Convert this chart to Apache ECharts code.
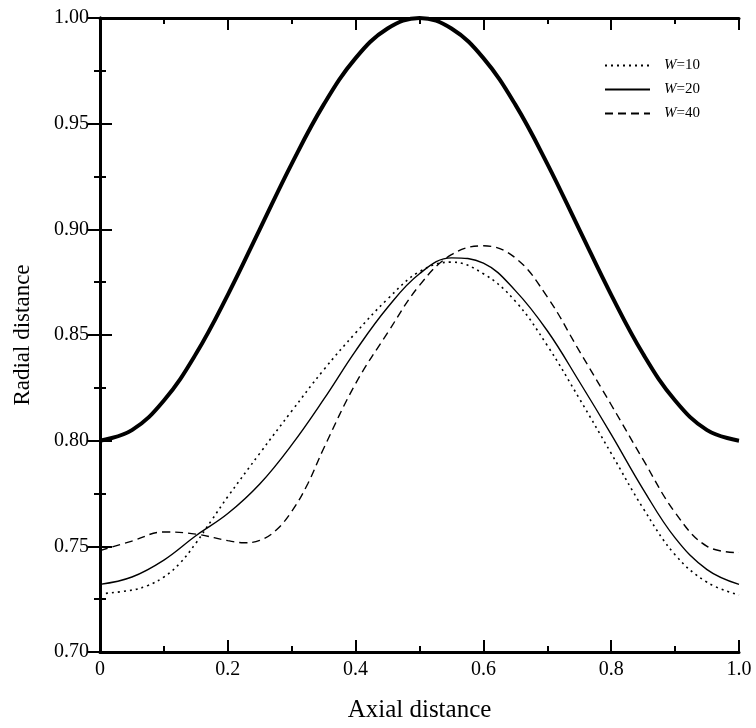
<!DOCTYPE html>
<html>
<head>
<meta charset="utf-8">
<script src="https://cdn.jsdelivr.net/npm/echarts@6/dist/echarts.min.js"></script>
<style>
html,body{margin:0;padding:0;background:#fff;}
#chart{width:756px;height:728px;}
</style>
</head>
<body>
<div id="chart"></div>
<script>
// Axial positions (common)
const xs = [0,0.05,0.10,0.15,0.20,0.25,0.30,0.35,0.40,0.45,0.50,0.55,0.60,0.65,0.70,0.75,0.80,0.85,0.90,0.95,1.00];
// Thick curve (wall profile)
const wall = [0.800,0.805,0.819,0.841,0.869,0.900,0.931,0.959,0.981,0.995,1.000,0.995,0.981,0.959,0.931,0.900,0.869,0.841,0.819,0.805,0.800];
// W=10 (dotted) – own axial positions for the bend near 0.1–0.2
const xs10 = [0,0.05,0.075,0.10,0.125,0.15,0.175,0.20,0.25,0.30,0.35,0.40,0.45,0.50,0.55,0.60,0.65,0.70,0.75,0.80,0.85,0.90,0.95,1.00];
const w10 = [0.7275,0.7293,0.7315,0.7355,0.742,0.7515,0.7625,0.7735,0.794,0.814,0.8335,0.851,0.867,0.880,0.8845,0.879,0.866,0.845,0.820,0.794,0.768,0.746,0.733,0.727];
// W=20 (solid)
const w20 = [0.732,0.7355,0.7435,0.755,0.7655,0.7795,0.798,0.8195,0.8425,0.863,0.879,0.8865,0.884,0.871,0.852,0.828,0.803,0.777,0.754,0.739,0.732];
// W=40 (dashed) – own axial positions around the local minimum
const xs40 = [0,0.05,0.10,0.15,0.20,0.225,0.25,0.275,0.30,0.325,0.35,0.40,0.45,0.50,0.55,0.60,0.65,0.70,0.75,0.80,0.85,0.90,0.95,1.00];
const w40 = [0.748,0.7525,0.7568,0.7558,0.7527,0.7517,0.7528,0.7575,0.7665,0.7795,0.7963,0.827,0.851,0.8735,0.888,0.8922,0.8865,0.868,0.8425,0.817,0.791,0.766,0.750,0.747];

const seriesNames = ['W=10','W=20','W=40'];
const xTickLabels = ['0','0.2','0.4','0.6','0.8','1.0'];
const yTickLabels = ['0.70','0.75','0.80','0.85','0.90','0.95','1.00'];

const font = 'Liberation Serif';
const pairs = (xv, ys) => xv.map((x,i)=>[x, ys[i]]);

const tick = {inside:true, length:12, lineStyle:{color:'#000', width:2}};
const minor = {show:true, splitNumber:2, length:6, lineStyle:{color:'#000', width:2}};
const axLine = {show:true, lineStyle:{color:'#000', width:3}};

const chart = echarts.init(document.getElementById('chart'), null, {renderer:'canvas'});
chart.setOption({
  animation:false,
  backgroundColor:'#fff',
  grid:{left:100, right:17, top:18, bottom:67, containLabel:false},
  xAxis:[{
    type:'value', min:0, max:1, interval:0.2, position:'bottom',
    name:'Axial distance', nameLocation:'middle', nameGap:46,
    nameTextStyle:{fontFamily:font, fontSize:25, color:'#000'},
    axisLine:axLine, axisTick:tick, minorTick:minor,
    splitLine:{show:false},
    axisLabel:{fontFamily:font, fontSize:20, color:'#000', margin:8,
      formatter:v=>xTickLabels[Math.round(v/0.2)]}
  },{
    type:'value', min:0, max:1, interval:0.2, position:'top',
    axisLine:axLine, axisTick:tick, minorTick:minor,
    splitLine:{show:false}, axisLabel:{show:false}
  }],
  yAxis:[{
    type:'value', min:0.70, max:1.00, interval:0.05, position:'left',
    name:'Radial distance', nameLocation:'middle', nameGap:66, nameRotate:90,
    nameTextStyle:{fontFamily:font, fontSize:23, color:'#000'},
    axisLine:axLine, axisTick:tick, minorTick:minor,
    splitLine:{show:false},
    axisLabel:{fontFamily:font, fontSize:20, color:'#000', margin:11,
      formatter:v=>yTickLabels[Math.round((v-0.70)/0.05)]}
  },{
    type:'value', min:0.70, max:1.00, interval:0.05, position:'right',
    axisLine:axLine, axisTick:tick, minorTick:minor,
    splitLine:{show:false}, axisLabel:{show:false}
  }],
  legend:{
    data:seriesNames, orient:'vertical', left:604, top:58, padding:0,
    itemWidth:45, itemHeight:14, itemGap:9,
    itemStyle:{color:'rgba(0,0,0,0)', borderWidth:0, opacity:0},
    textStyle:{fontFamily:font, fontSize:15, color:'#000', padding:[0,0,0,9],
      rich:{i:{fontFamily:font, fontSize:15, fontStyle:'italic', color:'#000'}}},
    formatter:n=>'{i|W}'+n.slice(1)
  },
  series:[
    {name:'wall', type:'line', data:pairs(xs, wall), smooth:0.4, symbol:'none',
     lineStyle:{color:'#000', width:4}, z:3},
    {name:'W=10', type:'line', data:pairs(xs10, w10), smooth:0.4, symbol:'none',
     itemStyle:{color:'#000'}, lineStyle:{color:'#000', width:1.6, type:[2,4]}},
    {name:'W=20', type:'line', data:pairs(xs, w20), smooth:0.4, symbol:'none',
     itemStyle:{color:'#000'}, lineStyle:{color:'#000', width:1.4}},
    {name:'W=40', type:'line', data:pairs(xs40, w40), smooth:0.4, symbol:'none',
     itemStyle:{color:'#000'}, lineStyle:{color:'#000', width:1.4, type:[8,5]}}
  ]
});
</script>
</body>
</html>
